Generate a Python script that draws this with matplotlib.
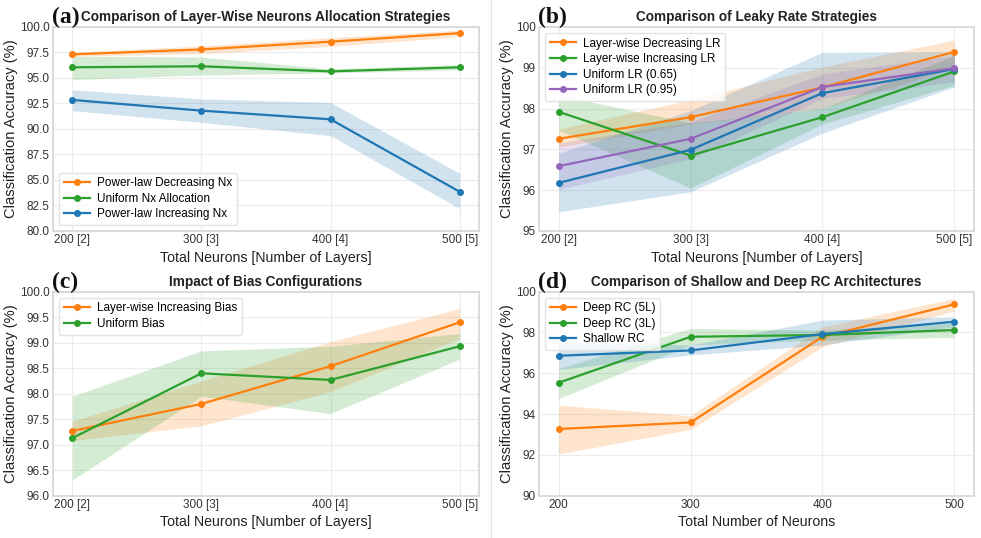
import numpy as np
import matplotlib
matplotlib.use('Agg')
import matplotlib.pyplot as plt
from matplotlib.lines import Line2D

plt.rcParams['font.family'] = ['Liberation Sans', 'DejaVu Sans']

# shared x data
neurons = [200, 300, 400, 500]
layer_labels = ['200 [2]', '300 [3]', '400 [4]', '500 [5]']
neuron_labels = ['200', '300', '400', '500']

# (a) neurons allocation
a_dec = [97.32, 97.80, 98.56, 99.40]
a_dec_lo = [97.15, 97.40, 98.10, 99.05]
a_dec_hi = [97.50, 98.15, 98.95, 99.70]
a_uni = [96.05, 96.15, 95.65, 96.05]
a_uni_lo = [94.85, 95.30, 95.50, 95.80]
a_uni_hi = [97.15, 97.05, 95.90, 96.30]
a_inc = [92.85, 91.80, 90.95, 83.85]
a_inc_lo = [91.80, 90.65, 89.35, 82.20]
a_inc_hi = [93.85, 92.95, 92.60, 85.65]

# (b) leaky rate
b_dec = [97.26, 97.79, 98.52, 99.39]
b_dec_lo = [97.06, 97.62, 98.00, 99.00]
b_dec_hi = [97.50, 98.22, 99.02, 99.68]
b_inc = [97.92, 96.85, 97.79, 98.91]
b_inc_lo = [97.47, 96.05, 97.62, 98.57]
b_inc_hi = [98.33, 97.65, 98.00, 99.30]
b_u065 = [96.18, 96.99, 98.38, 98.97]
b_u065_lo = [95.47, 95.96, 97.40, 98.53]
b_u065_hi = [96.91, 97.95, 99.38, 99.40]
b_u095 = [96.59, 97.26, 98.53, 98.99]
b_u095_lo = [96.02, 96.77, 98.25, 98.65]
b_u095_hi = [97.16, 97.67, 98.85, 99.30]

# (c) bias
c_inc = [97.27, 97.80, 98.54, 99.40]
c_inc_lo = [97.08, 97.37, 98.04, 99.08]
c_inc_hi = [97.46, 98.25, 99.02, 99.67]
c_uni = [97.13, 98.40, 98.27, 98.93]
c_uni_lo = [96.31, 97.95, 97.61, 98.68]
c_uni_hi = [97.95, 98.84, 98.93, 99.18]

# (d) shallow vs deep
d_5l = [93.27, 93.59, 97.79, 99.38]
d_5l_lo = [92.04, 93.25, 97.30, 99.05]
d_5l_hi = [94.44, 93.92, 98.28, 99.67]
d_3l = [95.54, 97.79, 97.88, 98.12]
d_3l_lo = [94.77, 97.39, 97.63, 97.76]
d_3l_hi = [96.24, 98.20, 98.12, 98.45]
d_sh = [96.86, 97.12, 97.92, 98.53]
d_sh_lo = [96.19, 96.90, 97.39, 98.28]
d_sh_hi = [97.52, 97.39, 98.61, 98.77]

ORANGE = '#ff7f0e'
GREEN = '#2ca02c'
BLUE = '#1f77b4'
PURPLE = '#9467bd'


def style_axes(ax):
    ax.set_facecolor('white')
    ax.grid(True, color='#ececec', linewidth=0.8)
    ax.set_axisbelow(True)
    for s in ax.spines.values():
        s.set_color('#d9d9d9')
        s.set_linewidth(1.3)
    ax.tick_params(length=0, labelsize=8.5, colors='#333333', pad=2.5)


def draw_series(ax, x, y, lo, hi, color, label):
    ax.fill_between(x, lo, hi, color=color, alpha=0.2, linewidth=0)
    ax.plot(x, y, color=color, marker='o', markersize=4, linewidth=1.6, label=label)


def finish(ax, title, letter, xlabel, ticklabels, ylim, yticks, yfmt, legend_loc):
    ax.set_xticks(neurons)
    ax.set_xticklabels(ticklabels)
    ax.set_ylim(*ylim)
    ax.set_yticks(yticks)
    ax.set_yticklabels([yfmt.format(v) for v in yticks])
    ax.set_xlabel(xlabel, fontsize=10.2, color='#222222', labelpad=3)
    ax.set_ylabel('Classification Accuracy (%)', fontsize=10.6, color='#222222', labelpad=1)
    ax.set_title(title, fontsize=9.8, fontweight='bold', color='#222222', pad=4)
    ax.text(-0.003, 1.02, letter, transform=ax.transAxes, fontsize=17, fontweight='bold',
            family='Liberation Serif', va='baseline', ha='left', color='#111111')
    leg = ax.legend(loc=legend_loc, fontsize=8.5, frameon=True, fancybox=True,
                    borderpad=0.4, labelspacing=0.3, handlelength=2.2,
                    handletextpad=0.6, borderaxespad=0.5)
    leg.get_frame().set_edgecolor('#dddddd')
    leg.get_frame().set_facecolor('white')
    leg.get_frame().set_alpha(0.8)


def main():
    fig = plt.figure(figsize=(9.81, 5.38), dpi=100)
    w1 = 426 / 981
    w2 = 435 / 981
    h = 204 / 538
    ax_a = fig.add_axes([53 / 981, 1 - 231 / 538, w1, h])
    ax_b = fig.add_axes([539 / 981, 1 - 231 / 538, w2, h])
    ax_c = fig.add_axes([53 / 981, 1 - 495.7 / 538, w1, h])
    ax_d = fig.add_axes([539 / 981, 1 - 495.7 / 538, w2, h])
    for ax in (ax_a, ax_b, ax_c, ax_d):
        style_axes(ax)

    draw_series(ax_a, neurons, a_dec, a_dec_lo, a_dec_hi, ORANGE, 'Power-law Decreasing Nx')
    draw_series(ax_a, neurons, a_uni, a_uni_lo, a_uni_hi, GREEN, 'Uniform Nx Allocation')
    draw_series(ax_a, neurons, a_inc, a_inc_lo, a_inc_hi, BLUE, 'Power-law Increasing Nx')
    finish(ax_a, 'Comparison of Layer-Wise Neurons Allocation Strategies', '(a)',
           'Total Neurons [Number of Layers]', layer_labels, (80, 100),
           np.arange(80, 100.1, 2.5), '{:.1f}', 'lower left')

    draw_series(ax_b, neurons, b_dec, b_dec_lo, b_dec_hi, ORANGE, 'Layer-wise Decreasing LR')
    draw_series(ax_b, neurons, b_inc, b_inc_lo, b_inc_hi, GREEN, 'Layer-wise Increasing LR')
    draw_series(ax_b, neurons, b_u065, b_u065_lo, b_u065_hi, BLUE, 'Uniform LR (0.65)')
    draw_series(ax_b, neurons, b_u095, b_u095_lo, b_u095_hi, PURPLE, 'Uniform LR (0.95)')
    finish(ax_b, 'Comparison of Leaky Rate Strategies', '(b)',
           'Total Neurons [Number of Layers]', layer_labels, (95, 100),
           np.arange(95, 100.1, 1), '{:.0f}', 'upper left')

    draw_series(ax_c, neurons, c_inc, c_inc_lo, c_inc_hi, ORANGE, 'Layer-wise Increasing Bias')
    draw_series(ax_c, neurons, c_uni, c_uni_lo, c_uni_hi, GREEN, 'Uniform Bias')
    finish(ax_c, 'Impact of Bias Configurations', '(c)',
           'Total Neurons [Number of Layers]', layer_labels, (96, 100),
           np.arange(96, 100.1, 0.5), '{:.1f}', 'upper left')

    draw_series(ax_d, neurons, d_5l, d_5l_lo, d_5l_hi, ORANGE, 'Deep RC (5L)')
    draw_series(ax_d, neurons, d_3l, d_3l_lo, d_3l_hi, GREEN, 'Deep RC (3L)')
    draw_series(ax_d, neurons, d_sh, d_sh_lo, d_sh_hi, BLUE, 'Shallow RC')
    finish(ax_d, 'Comparison of Shallow and Deep RC Architectures', '(d)',
           'Total Number of Neurons', neuron_labels, (90, 100),
           np.arange(90, 100.1, 2), '{:.0f}', 'upper left')

    # faint divider between the two columns
    fig.add_artist(Line2D([491 / 981, 491 / 981], [0, 1], color='#e6e6e6', linewidth=1))

    fig.savefig('out.png', dpi=100, facecolor='white')


main()
